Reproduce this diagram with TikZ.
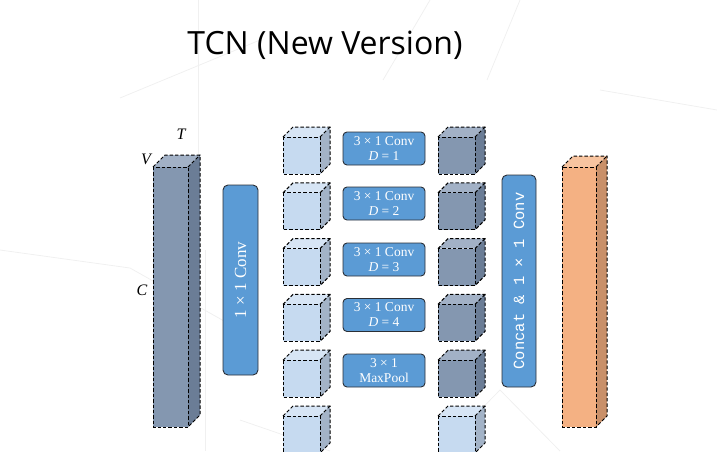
\documentclass[tikz,border=0pt]{standalone}
\usepackage{fontspec}
\setmainfont{Liberation Serif}
\newfontfamily\titlefont{Open Sans}
\newfontfamily\monofont{Liberation Mono}
\usetikzlibrary{positioning}
\definecolor{slatefront}{HTML}{8497B0}
\definecolor{slatetop}{HTML}{A2B1C6}
\definecolor{slateside}{HTML}{6B7D96}
\definecolor{icefront}{HTML}{C6DAF0}
\definecolor{icetop}{HTML}{D7E5F5}
\definecolor{iceside}{HTML}{A3B3C7}
\definecolor{peachfront}{HTML}{F4B183}
\definecolor{peachtop}{HTML}{F7C4A0}
\definecolor{peachside}{HTML}{C99069}
\definecolor{convblue}{HTML}{5B9BD5}
\definecolor{ink}{HTML}{2B2F36}

% cuboid: x, y (front top left), width, height, depth, colour prefix
\newcommand{\cuboid}[6]{%
  \fill[#6front] (#1,#2) rectangle ++(#3,#4);
  \fill[#6top] (#1,#2) -- ++(#5,-#5) -- ++(#3,0) -- ++(-#5,#5) -- cycle;
  \fill[#6side] (#1+#3,#2) -- ++(#5,-#5) -- ++(0,#4) -- ++(-#5,#5) -- cycle;
  \draw[edge] (#1,#2) rectangle ++(#3,#4);
  \draw[edge] (#1,#2) -- ++(#5,-#5) -- ++(#3,0) -- ++(0,#4) -- ++(-#5,#5);
  \draw[edge] (#1+#3,#2) -- ++(#5,-#5);
}

\begin{document}
\begin{tikzpicture}[
  x=1pt,y=-1pt,
  edge/.style={draw=black,dash pattern=on 3.4pt off 2pt,line width=1pt},
  convbox/.style={draw=ink,fill=convblue,rounded corners=4pt,line width=.9pt,
                  text=white,align=center,inner sep=1pt,font=\fontsize{13.5}{15}\selectfont},
  tallbox/.style={draw=ink,fill=convblue,rounded corners=5pt,line width=.9pt,
                  text=white,inner sep=0pt},
  axis/.style={font=\itshape\fontsize{16}{16}\selectfont}
]
\useasboundingbox (0,0) rectangle (717,451);
\clip (0,0) rectangle (717,451);

% faint background lines
\begin{scope}[draw=black!6,line width=.8pt]
  \draw (198,0) -- (198,155);
  \draw (120,98) -- (260,40);
  \draw (0,250) -- (130,268) -- (240,330);
  \draw (383,80) -- (430,0);
  \draw (487,80) -- (520,0);
  \draw (600,90) -- (717,110);
  \draw (240,420) -- (330,451);
  \draw (440,451) -- (500,390) -- (560,451);
  \draw (205,250) -- (205,451);
\end{scope}

\node[font=\titlefont\fontsize{32}{36}\selectfont] (title) at (325,45) {TCN (New Version)};

% input tensor
\cuboid{153}{167}{35}{260}{12}{slate}
\node[axis] (lt) at (181,134) {T};
\node[axis] (lv) at (146,159) {V};
\node[axis] (lc) at (142,290) {C};

\node[tallbox,minimum width=35pt,minimum height=190pt] (conva) at (240.5,280) {};
\node[rotate=90,text=white,font=\fontsize{17}{17}\selectfont] at (conva) {1 × 1 Conv};

% branches
\foreach \i in {0,...,5} {
  \cuboid{283}{137+55.8*\i}{37}{37}{10}{ice}
}
\foreach \i in {0,...,4} {
  \cuboid{438}{137+55.8*\i}{37}{37}{10}{slate}
}
\cuboid{438}{416}{37}{37}{10}{ice}

\node[convbox,minimum width=82pt,minimum height=33pt] (b1) at (384,148.5) {3 × 1 Conv\\\textit{D} = 1};
\node[convbox,minimum width=82pt,minimum height=33pt] (b2) at (384,203.5) {3 × 1 Conv\\\textit{D} = 2};
\node[convbox,minimum width=82pt,minimum height=33pt] (b3) at (384,259.5) {3 × 1 Conv\\\textit{D} = 3};
\node[convbox,minimum width=82pt,minimum height=33pt] (b4) at (384,315) {3 × 1 Conv\\\textit{D} = 4};
\node[convbox,minimum width=82pt,minimum height=33pt] (b5) at (384,370.5) {3 × 1\\MaxPool};

% merge
\node[tallbox,minimum width=34pt,minimum height=212pt] (convb) at (519,281) {};
\node[rotate=90,text=white,font=\monofont\fontsize{15.5}{16}\selectfont] at (convb) {Concat \& 1 × 1 Conv};

% output tensor
\cuboid{562}{167}{34}{260}{11}{peach}
\end{tikzpicture}
\end{document}
